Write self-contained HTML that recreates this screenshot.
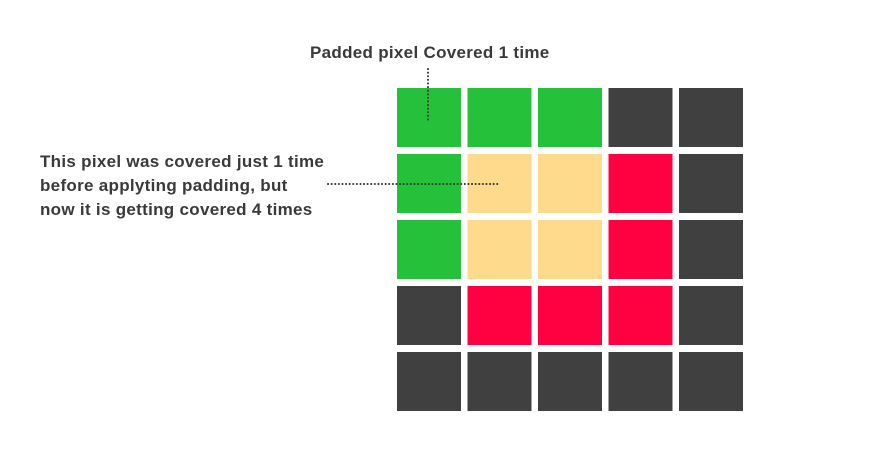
<!DOCTYPE html>
<html><head><meta charset="utf-8"><style>
body{margin:0;background:#fff;width:873px;height:460px;overflow:hidden;position:relative;font-family:"Liberation Sans",sans-serif;color:#333}
.t{position:absolute;font-size:17px;font-weight:bold;letter-spacing:0.3px;white-space:nowrap;color:#3a3a3a}
</style></head><body>
<div class="t" style="left:310px;top:43px">Padded pixel Covered 1 time</div>
<div class="t" style="left:40px;top:150px;line-height:24px">This pixel was covered just 1 time<br>before applyting padding, but<br>now it is getting covered 4 times</div>
<svg id="g" width="873" height="460" style="position:absolute;left:0;top:0"></svg>
<script>
const rowColors=[
 ["#26c13a","#26c13a","#26c13a","#404040","#404040"],
 ["#26c13a","#fdda8c","#fdda8c","#ff0040","#404040"],
 ["#26c13a","#fdda8c","#fdda8c","#ff0040","#404040"],
 ["#404040","#ff0040","#ff0040","#ff0040","#404040"],
 ["#404040","#404040","#404040","#404040","#404040"]];
const svg=document.getElementById('g');const NS='http://www.w3.org/2000/svg';
const colX=c=>397+c*70.5, rowY=r=>88+r*66;
rowColors.forEach((row,r)=>row.forEach((col,c)=>{
 const e=document.createElementNS(NS,'rect');
 e.setAttribute('x',colX(c));e.setAttribute('y',rowY(r));e.setAttribute('width',64);e.setAttribute('height',59);e.setAttribute('fill',col);
 
 
 svg.appendChild(e);}));
function dots(x1,y1,x2,y2,n){const l=document.createElementNS(NS,'line');
 l.setAttribute('x1',x1);l.setAttribute('y1',y1);l.setAttribute('x2',x2);l.setAttribute('y2',y2);
 l.setAttribute('stroke','#333');l.setAttribute('stroke-width','2');l.setAttribute('stroke-linecap','round');l.setAttribute('stroke-dasharray','0.1 3.5');
 
 
 svg.appendChild(l);}
dots(428,69,428,120,'vertical-leader-line');
dots(328,184,498,184,'horizontal-leader-line');
</script>
</body></html>
